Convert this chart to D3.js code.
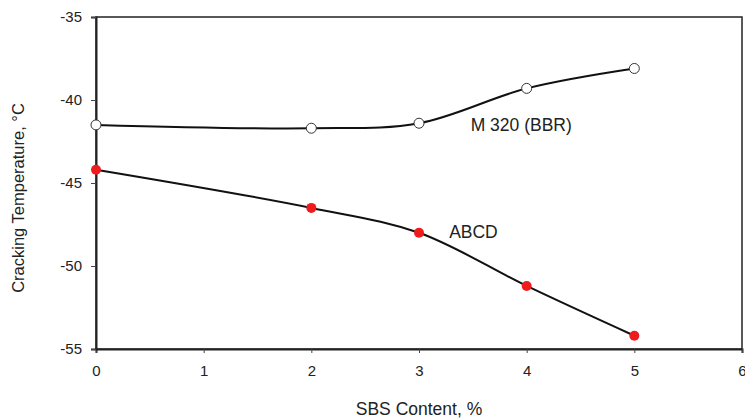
<!DOCTYPE html>
<html>
<head>
<meta charset="utf-8">
<script src="https://cdn.jsdelivr.net/npm/d3@7"></script>
<style>
  body { margin: 0; background: #fff; }
  text { font-family: "Liberation Sans", Arial, sans-serif; fill: #222; }
</style>
</head>
<body>
<div id="vis"></div>
<script>
const FRAME_WIDTH = 745;
const FRAME_HEIGHT = 420;
const MARGINS = { left: 96, right: 3, top: 17, bottom: 71 };

// SBS content (%) and cracking temperatures (°C)
const sbsContent = [0, 2, 3, 4, 5];
const m320Values = [-41.5, -41.7, -41.4, -39.3, -38.1];
const abcdValues = [-44.2, -46.5, -48.0, -51.2, -54.2];
const xTicks = [0, 1, 2, 3, 4, 5, 6];
const yTicks = [-35, -40, -45, -50, -55];

const VIS_WIDTH = FRAME_WIDTH - MARGINS.left - MARGINS.right;
const VIS_HEIGHT = FRAME_HEIGHT - MARGINS.top - MARGINS.bottom;

const FRAME = d3.select('#vis')
  .append('svg')
  .attr('width', FRAME_WIDTH)
  .attr('height', FRAME_HEIGHT);

const X_SCALE = d3.scaleLinear().domain([0, 6]).range([0, VIS_WIDTH]);
const Y_SCALE = d3.scaleLinear().domain([-55, -35]).range([VIS_HEIGHT, 0]);

const g = FRAME.append('g')
  .attr('transform', 'translate(' + MARGINS.left + ',' + MARGINS.top + ')');

// plot box
g.append('rect')
  .attr('width', VIS_WIDTH)
  .attr('height', VIS_HEIGHT)
  .attr('fill', 'none')
  .attr('stroke', '#222')
  .attr('stroke-width', 1.5);

// plain hyphen for negatives, like the original
const fmt = (d) => String(d);

const xAxis = g.append('g')
  .attr('transform', 'translate(0,' + VIS_HEIGHT + ')')
  .call(d3.axisBottom(X_SCALE).tickValues(xTicks).tickFormat(fmt).tickSize(4).tickPadding(12));

const yAxis = g.append('g')
  .call(d3.axisLeft(Y_SCALE).tickValues(yTicks).tickFormat(fmt).tickSize(5).tickPadding(9));

[xAxis, yAxis].forEach((a) => {
  a.select('.domain').attr('stroke', '#222').attr('stroke-width', 2);
  a.selectAll('.tick line').attr('stroke', '#444');
  a.selectAll('.tick text')
    .attr('font-size', '15px')
    .attr('font-family', '"Liberation Sans", Arial, sans-serif')
    .attr('fill', '#222');
});

const m320 = sbsContent.map((x, i) => ({ x: x, y: m320Values[i] }));
const abcd = sbsContent.map((x, i) => ({ x: x, y: abcdValues[i] }));

const line = d3.line()
  .x((d) => X_SCALE(d.x))
  .y((d) => Y_SCALE(d.y))
  .curve(d3.curveCatmullRom.alpha(0.5));

g.append('path')
  .datum(m320)
  .attr('d', line)
  .attr('fill', 'none')
  .attr('stroke', '#111')
  .attr('stroke-width', 2);

g.append('path')
  .datum(abcd)
  .attr('d', line)
  .attr('fill', 'none')
  .attr('stroke', '#111')
  .attr('stroke-width', 2);

g.selectAll('.m320-pt')
  .data(m320)
  .enter()
  .append('circle')
  .attr('class', 'm320-pt')
  .attr('cx', (d) => X_SCALE(d.x))
  .attr('cy', (d) => Y_SCALE(d.y))
  .attr('r', 5)
  .attr('fill', '#fff')
  .attr('stroke', '#333')
  .attr('stroke-width', 1);

g.selectAll('.abcd-pt')
  .data(abcd)
  .enter()
  .append('circle')
  .attr('class', 'abcd-pt')
  .attr('cx', (d) => X_SCALE(d.x))
  .attr('cy', (d) => Y_SCALE(d.y))
  .attr('r', 5)
  .attr('fill', '#ee1c1c');

// series labels
g.append('text')
  .attr('x', X_SCALE(3.48))
  .attr('y', Y_SCALE(-41.85))
  .attr('font-size', '17.5px')
  .text('M 320 (BBR)');

g.append('text')
  .attr('x', X_SCALE(3.28))
  .attr('y', Y_SCALE(-48.3))
  .attr('font-size', '17.5px')
  .text('ABCD');

// axis titles
FRAME.append('text')
  .attr('x', MARGINS.left + X_SCALE(3))
  .attr('y', 415)
  .attr('text-anchor', 'middle')
  .attr('font-size', '17.5px')
  .text('SBS Content, %');

FRAME.append('text')
  .attr('transform', 'translate(24,' + (MARGINS.top + Y_SCALE(-45) + 15) + ') rotate(-90)')
  .attr('text-anchor', 'middle')
  .attr('font-size', '16.5px')
  .text('Cracking Temperature, °C');
</script>
</body>
</html>
